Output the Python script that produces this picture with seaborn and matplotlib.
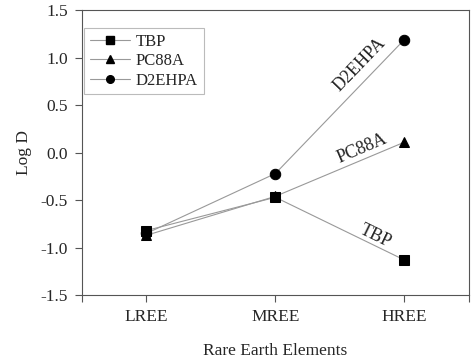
import matplotlib
matplotlib.use("Agg")
import matplotlib.pyplot as plt
import seaborn as sns
import pandas as pd
from matplotlib.lines import Line2D

categories = ["LREE", "MREE", "HREE"]
tbp = [-0.82, -0.47, -1.13]
pc88a = [-0.87, -0.46, 0.11]
d2ehpa = [-0.85, -0.22, 1.19]
series_names = ["TBP", "PC88A", "D2EHPA"]
yticks = [-1.5, -1.0, -0.5, 0.0, 0.5, 1.0, 1.5]

sns.set_style("ticks")
plt.rcParams["font.family"] = ["Liberation Serif", "DejaVu Serif"]
plt.rcParams["axes.unicode_minus"] = False

fig = plt.figure(figsize=(4.74, 3.63), dpi=100)
ax = fig.add_axes([0.173, 0.187, 0.816, 0.785])

markers = {"TBP": "s", "PC88A": "^", "D2EHPA": "o"}
vals = {"TBP": tbp, "PC88A": pc88a, "D2EHPA": d2ehpa}
pos = list(range(len(categories)))

for name in ["D2EHPA", "PC88A", "TBP"]:
    df = pd.DataFrame({"x": pos, "y": vals[name]})
    sns.lineplot(data=df, x="x", y="y", ax=ax, color="#999999", linewidth=0.8,
                 marker=markers[name], markersize=7.5,
                 markerfacecolor="black", markeredgecolor="black")

ax.set_xlim(-0.5, 2.5)
ax.set_ylim(-1.5, 1.5)
ax.set_xticks([-0.5, 0, 1, 2, 2.5])
ax.set_xticklabels(["", "LREE", "MREE", "HREE", ""], fontsize=12.5)
ax.set_yticks(yticks)
ax.set_yticklabels([f"{v:.1f}" for v in yticks], fontsize=12.5)
ax.set_xlabel("Rare Earth Elements", fontsize=12.5, labelpad=13)
ax.set_ylabel("Log D", fontsize=12.5, labelpad=6)
ax.tick_params(axis="both", direction="out", length=5, width=0.8, color="#555555", pad=5)
for s in ax.spines.values():
    s.set_visible(True)
    s.set_color("#555555")
    s.set_linewidth(0.8)

handles = [Line2D([], [], color="#999999", linewidth=0.8, marker=markers[n], markersize=5.5,
                  markerfacecolor="black", markeredgecolor="black") for n in series_names]
leg = ax.legend(handles, series_names, loc="upper left", bbox_to_anchor=(0.006, 0.937),
                frameon=True, fancybox=False, fontsize=12, handlelength=2.4,
                borderpad=0.35, labelspacing=0.2, handletextpad=0.35, borderaxespad=0)
leg.get_frame().set_edgecolor("#aaaaaa")
leg.get_frame().set_linewidth(0.8)

ax.text(1.65, 0.93, "D2EHPA", rotation=46, ha="center", va="center", fontsize=13)
ax.text(1.67, 0.045, "PC88A", rotation=23, ha="center", va="center", fontsize=13)
ax.text(1.78, -0.88, "TBP", rotation=-26, ha="center", va="center", fontsize=13)

fig.savefig("out.png", dpi=100)
